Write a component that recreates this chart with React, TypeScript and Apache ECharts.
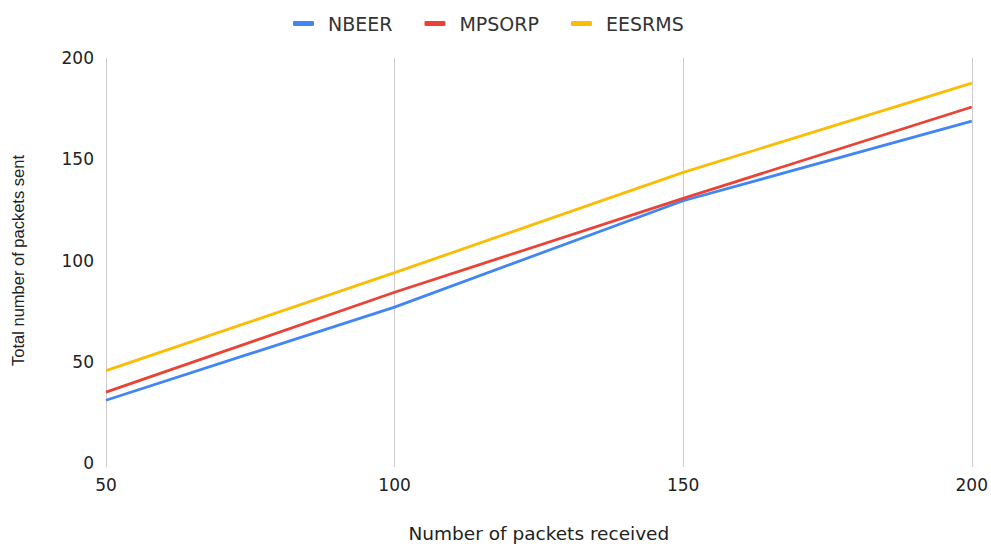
import React, { useEffect, useRef } from "react";
import * as echarts from "echarts";

const categories = ["50", "100", "150", "200"];
const nbeer = [31, 77, 129.5, 168.8];
const mpsorp = [35, 84.3, 130.7, 175.8];
const eesrms = [45.6, 94, 143.5, 187.6];
const seriesNames = ["NBEER", "MPSORP", "EESRMS"];
const colors = ["#4285F4", "#EA4335", "#FBBC04"];

export default function App() {
  const ref = useRef<HTMLDivElement>(null);
  useEffect(() => {
    if (!ref.current) return;
    const chart = echarts.init(ref.current, null, { renderer: "svg" });
    const wide = "'DejaVu Sans', sans-serif";
    const arial = "Arial, 'Liberation Sans', sans-serif";
    const data = [nbeer, mpsorp, eesrms];
    chart.setOption({
      animation: false,
      color: colors,
      textStyle: { fontFamily: wide },
      legend: {
        top: 9,
        left: 288,
        itemWidth: 21,
        itemHeight: 5,
        itemGap: 32,
        icon: "roundRect",
        textStyle: { fontSize: 19, color: "#333", fontFamily: wide, padding: [0, 0, 0, 9] },
        data: seriesNames,
      },
      grid: { left: 106, right: 19, top: 58, bottom: 82 },
      xAxis: {
        type: "category",
        data: categories,
        boundaryGap: false,
        axisLine: { show: false },
        axisTick: { show: true, length: 4, lineStyle: { color: "#ccc" } },
        axisLabel: { fontSize: 17, color: "#222", margin: 13, fontFamily: wide },
        splitLine: { show: true, lineStyle: { color: "#ccc", width: 1 } },
        name: "Number of packets received",
        nameLocation: "middle",
        nameGap: 61,
        nameTextStyle: { fontSize: 18.5, color: "#222", fontFamily: wide },
      },
      yAxis: {
        type: "value",
        min: 0,
        max: 200,
        interval: 50,
        axisLine: { show: false },
        axisTick: { show: false },
        splitLine: { show: false },
        axisLabel: { fontSize: 17, color: "#222", margin: 12, fontFamily: wide },
        name: "Total number of packets sent",
        nameLocation: "middle",
        nameGap: 80,
        nameTextStyle: { fontSize: 16.5, color: "#222", fontFamily: arial },
      },
      series: seriesNames.map((n, i) => ({
        name: n,
        type: "line",
        data: data[i],
        showSymbol: false,
        symbol: "none",
        lineStyle: { width: 2.8, color: colors[i] },
        itemStyle: { color: colors[i] },
      })),
    });
    return () => chart.dispose();
  }, []);
  return (
    <div
      ref={ref}
      style={{ position: "absolute", left: 0, top: 0, width: 991, height: 548 }}
    />
  );
}
